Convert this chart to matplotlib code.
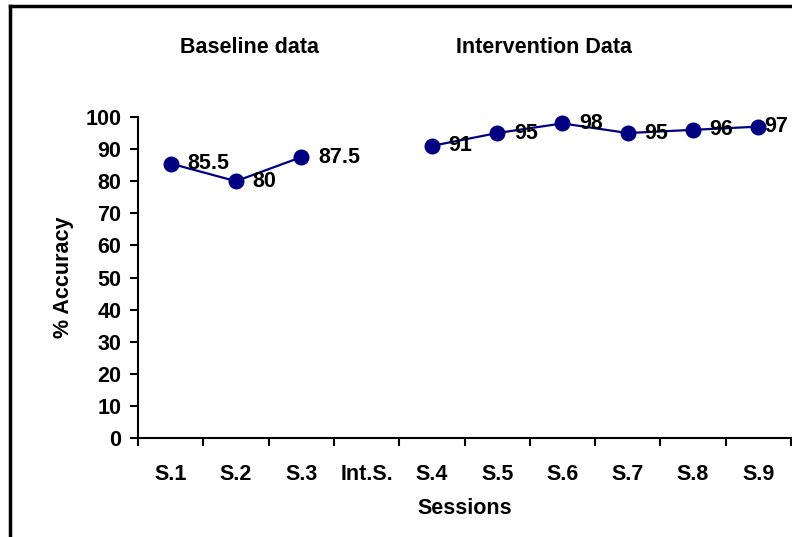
import numpy as np
import matplotlib
matplotlib.use("Agg")
from matplotlib import pyplot as plt
from matplotlib.lines import Line2D

plt.rcParams['font.family'] = ['Liberation Sans', 'DejaVu Sans']
plt.rcParams['font.weight'] = 'bold'

sessions = ["S.1", "S.2", "S.3", "Int.S.", "S.4", "S.5", "S.6", "S.7", "S.8", "S.9"]
accuracy = [85.5, 80, 87.5, np.nan, 91, 95, 98, 95, 96, 97]
value_labels = ["85.5", "80", "87.5", "", "91", "95", "98", "95", "96", "97"]
y_ticks = [0, 10, 20, 30, 40, 50, 60, 70, 80, 90, 100]

FS = 15.5
NAVY = "#000080"

fig = plt.figure(figsize=(7.92, 5.37), dpi=100)
ax = fig.add_axes([138 / 792, 1 - 438 / 537, (791 - 138) / 792, (438 - 117) / 537])

x = np.arange(len(sessions))
ax.plot(x, accuracy, color=NAVY, lw=1.6, marker="o", ms=10.5,
        markerfacecolor=NAVY, markeredgecolor=NAVY, clip_on=False, zorder=3)

# value labels to the right of each point
for i, (xi, yi, lab) in enumerate(zip(x, accuracy, value_labels)):
    if not lab:
        continue
    dx = 4 if i == len(x) - 1 else 12
    ax.annotate(lab, (xi, yi), xytext=(dx, 0), textcoords="offset points",
                ha="left", va="center", fontsize=FS, fontweight="bold",
                annotation_clip=False, zorder=4)

ax.set_xlim(-0.5, len(sessions) - 0.5)
ax.set_ylim(0, 100)
ax.set_yticks(y_ticks)
ax.set_xticks(x)
ax.set_xticklabels(sessions)
ax.set_xticks(np.arange(-0.5, len(sessions)), minor=True)

ax.tick_params(axis="x", which="major", length=0, pad=19, labelsize=FS)
ax.tick_params(axis="x", which="minor", length=6, width=1.5, direction="out")
ax.tick_params(axis="y", length=6, width=1.5, direction="out", pad=6, labelsize=FS)

for s in ["top", "right"]:
    ax.spines[s].set_visible(False)
for s in ["left", "bottom"]:
    ax.spines[s].set_linewidth(1.5)

ax.set_xlabel("Sessions", fontsize=FS, fontweight="bold", labelpad=9)
ax.set_ylabel("% Accuracy", fontsize=FS, fontweight="bold", labelpad=8)

fig.text(250 / 792, 1 - 47.5 / 537, "Baseline data", ha="center", va="center",
         fontsize=FS, fontweight="bold")
fig.text(543.5 / 792, 1 - 47.5 / 537, "Intervention Data", ha="center", va="center",
         fontsize=FS, fontweight="bold")

# outer frame (left and top edges)
fig.add_artist(Line2D([9.5 / 792, 9.5 / 792], [0, 1 - 6 / 537], color="black", lw=2.5,
                      transform=fig.transFigure, solid_capstyle="projecting"))
fig.add_artist(Line2D([9.5 / 792, 1], [1 - 6 / 537, 1 - 6 / 537], color="black", lw=2.5,
                      transform=fig.transFigure, solid_capstyle="projecting"))

fig.savefig("out.png", dpi=100)
